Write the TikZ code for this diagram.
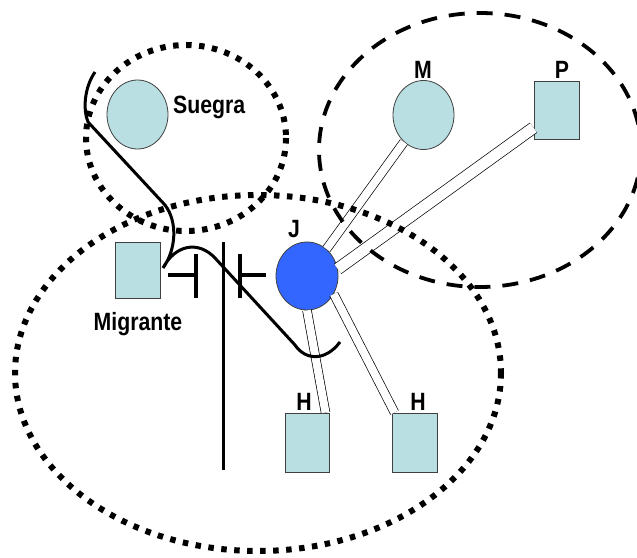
\documentclass[tikz,border=0pt]{standalone}
\usepackage{graphicx}
\usepackage{fontspec}
\setmainfont{Liberation Sans}
\usetikzlibrary{shapes.geometric,calc}
\definecolor{lb}{HTML}{B9DFE3}
\definecolor{jb}{HTML}{3366FF}
\definecolor{edgegray}{HTML}{404040}
\newcommand\sqz[1]{\scalebox{0.85}[1]{#1}}
\begin{document}
\begin{tikzpicture}[x=1pt,y=-1pt,
  circ/.style={ellipse, draw=edgegray, line width=0.8pt, fill=lb, inner sep=0pt, minimum width=61pt, minimum height=69pt},
  sqr/.style={rectangle, draw=edgegray, line width=1pt, fill=lb, inner sep=0pt, minimum width=45pt, minimum height=58pt},
  lbl/.style={font=\fontsize{25}{25}\selectfont\bfseries, inner sep=0pt, anchor=base},
  tie/.style={double, double distance=8pt, line width=0.7pt},
  dotline/.style={line width=6pt, dash pattern=on 5.5pt off 7.5pt},
  dashline/.style={line width=3.8pt, dash pattern=on 16pt off 12pt},
  heavy/.style={line width=3pt},
  tick/.style={line width=3.8pt}]
\useasboundingbox (0,0) rectangle (637,557);
% persons
\node[circ] (S) at (137.5,114.5) {};
\node[circ] (M) at (423.5,115) {};
\node[circ, fill=jb, minimum width=62pt, minimum height=68pt] (J) at (307,276) {};
\node[sqr, minimum height=56pt] (Mi) at (137.5,270) {};
\node[sqr] (P) at (556.5,110) {};
\node[sqr, minimum width=44pt, minimum height=59pt] (H1) at (307,442.5) {};
\node[sqr, minimum height=59pt] (H2) at (414.5,442.5) {};
% labels
\node[lbl, anchor=base west] (tS) at (173,113) {\sqz{Suegra}};
\node[lbl] (tMi) at (138,330) {\sqz{Migrante}};
\node[lbl] (tM) at (423,78) {\sqz{M}};
\node[lbl] (tP) at (562,78) {\sqz{P}};
\node[lbl] (tJ) at (294,237) {\sqz{J}};
\node[lbl] (tH1) at (304,410) {\sqz{H}};
\node[lbl] (tH2) at (418,410) {\sqz{H}};
% ties
\draw[tie] (J) -- (M);
\draw[tie, double distance=11pt] (J.13) -- ($(P.west)!0.6!(P.south west)$);
\draw[tie] (J.south) -- ([xshift=-4pt]H1.north east);
\draw[tie] (J.-34) -- ([xshift=3pt]H2.north west);
% households
\draw[dotline] (186,138) ellipse [x radius=100, y radius=93];
\draw[dotline] (258,373) ellipse [x radius=243, y radius=178];
\draw[dashline] (480,150) ellipse [x radius=161, y radius=137];
% separation marks
\coordinate (v1) at (223,242);
\coordinate (v2) at (223,470);
\draw[heavy] (v1) -- (v2);
\draw[tick] (168,275) -- (196,275) (196,254) -- (196,298);
\draw[tick] (240,254) -- (240,298) (240,275) -- (266,275);
% curved line
\draw[heavy] (95,72) .. controls (84,88) and (83,110) .. (88,122) -- (165,205)
  .. controls (178,222) and (176,250) .. (163,268)
  .. controls (175,245) and (198,240) .. (215,258) -- (295,345)
  .. controls (305,360) and (325,362) .. (340,342);
\end{tikzpicture}
\end{document}
